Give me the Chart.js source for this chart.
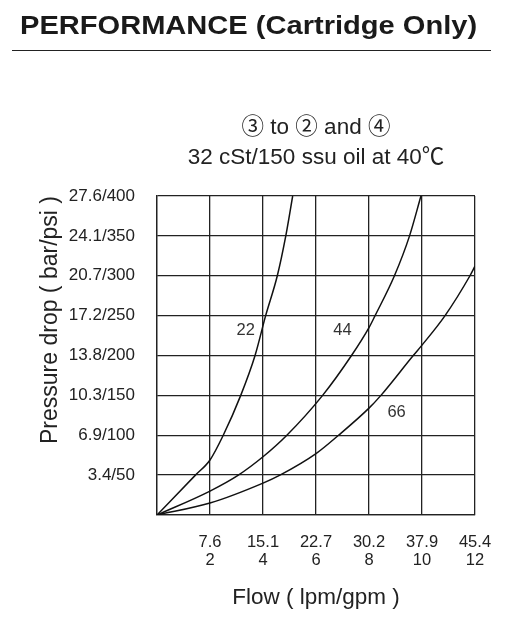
<!DOCTYPE html>
<html><head><meta charset="utf-8">
<script src="https://cdn.jsdelivr.net/npm/chart.js@4.4.1/dist/chart.umd.min.js"></script>
<style>
html,body{margin:0;padding:0;background:#fff;}
#wrap{position:relative;width:520px;height:630px;overflow:hidden;}
canvas{position:absolute;left:0;top:0;}
#hdr{position:absolute;left:20px;top:12px;font:bold 25px/26px 'Liberation Sans',Arial,sans-serif;color:#1a1a1a;transform-origin:left top;white-space:nowrap;}
#rule{position:absolute;left:12px;top:50px;width:479px;height:0;border-top:1.4px solid #222;}
</style></head>
<body><div id="wrap"><canvas id="c" width="520" height="630"></canvas><div id="hdr">PERFORMANCE (Cartridge Only)</div><div id="rule"></div></div>
<script>
// ---- data ----
const flowGpmTicks = [0, 2, 4, 6, 8, 10, 12];
const flowLpmLabels = ['', '7.6', '15.1', '22.7', '30.2', '37.9', '45.4'];
const psiTicks = [0, 50, 100, 150, 200, 250, 300, 350, 400];
const barPsiLabels = ['', '3.4/50', '6.9/100', '10.3/150', '13.8/200', '17.2/250', '20.7/300', '24.1/350', '27.6/400'];

const curve22Flow = [0, 1.45, 2, 2.5, 3.16, 3.7, 4.1, 4.54, 4.86, 5.12];
const curve22Psi  = [0, 50, 69, 100, 150, 200, 250, 300, 350, 400];
const curve44Flow = [0, 2, 3.07, 4, 4.9, 6.25, 7.34, 8.0, 8.23, 8.96, 9.53, 9.96];
const curve44Psi  = [0, 30, 50, 73, 100, 150, 200, 235, 250, 300, 350, 400];
const curve66Flow = [0, 2, 4, 4.64, 6, 6.85, 8, 8.45, 9.67, 10, 10.87, 11.81, 12];
const curve66Psi  = [0, 15, 40, 50, 77, 100, 134, 150, 200, 213, 250, 300, 312];

const curveNames = ['22', '44', '66'];
const curveLabelFlow = [3.35, 7.0, 9.04];
const curveLabelPsi = [231, 231, 129];

// ---- header scaling ----
const hdr = document.getElementById('hdr');
hdr.style.transform = 'scaleX(' + (457 / hdr.offsetWidth) + ')';

const FONT = "'Liberation Sans', Arial, 'Noto Sans CJK SC', sans-serif";
const TXT = '#222';
const LINE = '#222';
const pts = (xs, ys) => xs.map((x, i) => ({x: x, y: ys[i]}));
const ds = (name, xs, ys) => ({label: name, data: pts(xs, ys), borderColor: '#111', borderWidth: 1.5,
  pointRadius: 0, fill: false, cubicInterpolationMode: 'monotone'});

const curveLabels = {
  id: 'curveLabels',
  afterDatasetsDraw(chart) {
    const {ctx, scales} = chart;
    ctx.save();
    ctx.font = '16.5px ' + FONT;
    ctx.fillStyle = '#333';
    ctx.textAlign = 'center';
    ctx.textBaseline = 'middle';
    curveNames.forEach((n, i) => {
      ctx.fillText(n, scales.x.getPixelForValue(curveLabelFlow[i]), scales.y.getPixelForValue(curveLabelPsi[i]));
    });
    ctx.restore();
  }
};

new Chart(document.getElementById('c'), {
  type: 'line',
  data: {datasets: [
    ds('22', curve22Flow, curve22Psi),
    ds('44', curve44Flow, curve44Psi),
    ds('66', curve66Flow, curve66Psi)
  ]},
  options: {
    responsive: false,
    animation: false,
    layout: {padding: {left: 0, right: 45, top: 0, bottom: 15}},
    plugins: {
      legend: {display: false},
      tooltip: {enabled: false},
      title: {
        display: true, fullSize: false,
        text: ['③ to ② and ④', '32 cSt/150 ssu oil at 40℃'],
        color: TXT,
        font: {family: FONT, size: 22.5, weight: 'normal', lineHeight: '30px'},
        padding: {top: 113, bottom: 23}
      }
    },
    scales: {
      x: {
        type: 'linear', min: 0, max: 12,
        afterBuildTicks: s => { s.ticks = flowGpmTicks.map(v => ({value: v})); },
        afterFit: s => { s.height = 100; },
        ticks: {
          autoSkip: false, maxRotation: 0, padding: 18, color: TXT,
          font: {family: FONT, size: 16.5, lineHeight: '18px'},
          callback: v => { const i = flowGpmTicks.indexOf(v); return i <= 0 ? '' : [flowLpmLabels[i], String(v)]; }
        },
        grid: {color: LINE, lineWidth: 1.3, drawTicks: false},
        border: {color: LINE, width: 1.3},
        title: {display: true, text: 'Flow ( lpm/gpm )', color: TXT,
          font: {family: FONT, size: 22.5, lineHeight: 1.2}, padding: {top: 0, bottom: 4}}
      },
      y: {
        type: 'linear', min: 0, max: 400,
        afterBuildTicks: s => { s.ticks = psiTicks.map(v => ({value: v})); },
        afterFit: s => { s.width = 157; },
        ticks: {
          autoSkip: false, padding: 22, color: TXT,
          font: {family: FONT, size: 17},
          callback: v => { const i = psiTicks.indexOf(v); return i < 0 ? '' : barPsiLabels[i]; }
        },
        grid: {color: LINE, lineWidth: 1.3, drawTicks: false},
        border: {color: LINE, width: 1.3},
        title: {display: true, text: 'Pressure drop ( bar/psi )', align: 'end', color: TXT,
          font: {family: FONT, size: 23, lineHeight: 1.2}, padding: {top: 37, bottom: 0}}
      }
    }
  },
  plugins: [curveLabels]
});
</script>
</body></html>
